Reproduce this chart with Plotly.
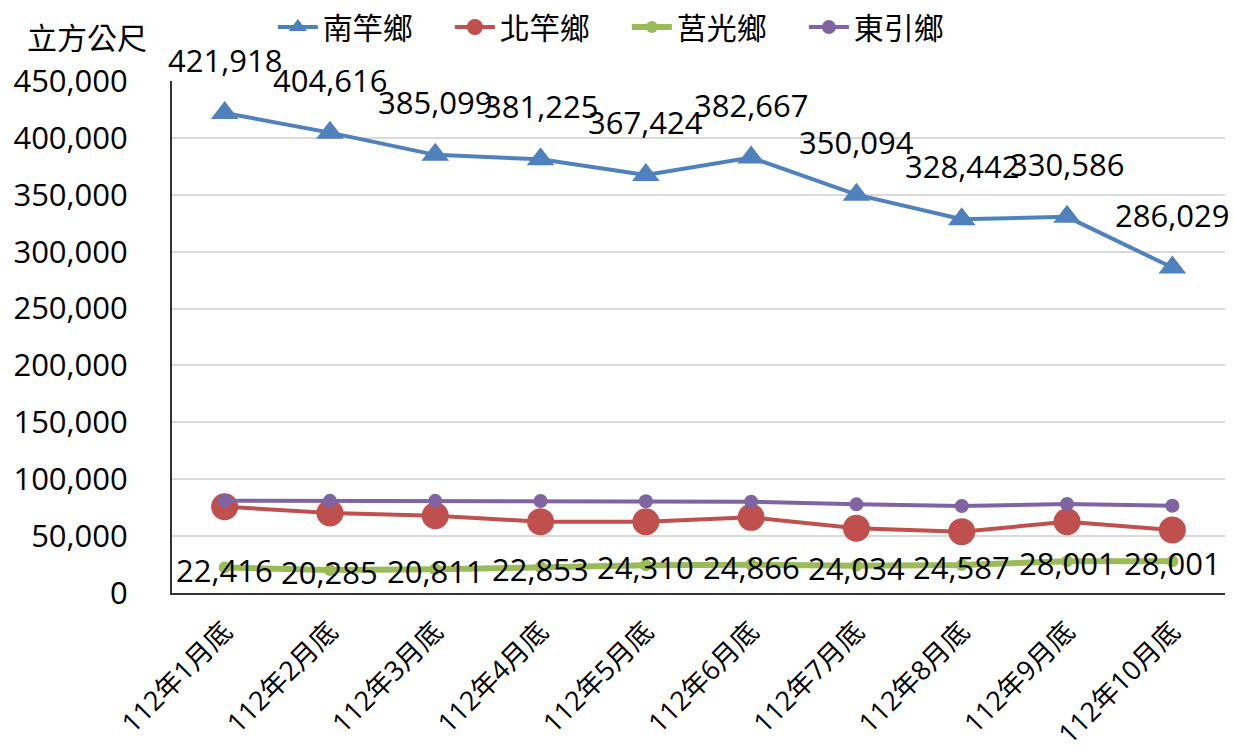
import plotly.graph_objects as go

months = ["112年1月底", "112年2月底", "112年3月底", "112年4月底", "112年5月底",
          "112年6月底", "112年7月底", "112年8月底", "112年9月底", "112年10月底"]

nangan = [421918, 404616, 385099, 381225, 367424, 382667, 350094, 328442, 330586, 286029]
beigan = [75800, 70300, 67900, 62700, 62600, 66500, 56900, 53900, 62600, 55400]
juguang = [22416, 20285, 20811, 22853, 24310, 24866, 24034, 24587, 28001, 28001]
dongyin = [81100, 81000, 81000, 80900, 80700, 80300, 77900, 76500, 78200, 76700]

FONT = "Open Sans, Noto Sans CJK TC, sans-serif"
LABEL_SIZE = 31

fig = go.Figure()
fig.add_trace(go.Scatter(
    x=months, y=nangan, name="南竿鄉", mode="lines+markers",
    line=dict(color="#4F81BD", width=4),
    marker=dict(symbol="triangle-up", size=24, color="#4F81BD"),
    cliponaxis=False))
fig.add_trace(go.Scatter(
    x=months, y=beigan, name="北竿鄉", mode="lines+markers",
    line=dict(color="#C0504D", width=4),
    marker=dict(symbol="circle", size=27, color="#C0504D"),
    cliponaxis=False))
fig.add_trace(go.Scatter(
    x=months, y=juguang, name="莒光鄉", mode="lines+markers",
    line=dict(color="#9BBB59", width=6),
    marker=dict(symbol="circle", size=12, color="#9BBB59"),
    cliponaxis=False))
fig.add_trace(go.Scatter(
    x=months, y=dongyin, name="東引鄉", mode="lines+markers",
    line=dict(color="#8064A2", width=4),
    marker=dict(symbol="circle", size=14, color="#8064A2"),
    cliponaxis=False))

# value labels: above the 南竿鄉 points, centred on the 莒光鄉 points
for m, v in zip(months, nangan):
    fig.add_annotation(x=m, y=v, text=f"{v:,}", showarrow=False, yshift=53,
                       font=dict(family=FONT, size=LABEL_SIZE, color="#000000"))
for m, v in zip(months, juguang):
    fig.add_annotation(x=m, y=v, text=f"{v:,}", showarrow=False, yshift=-2,
                       font=dict(family=FONT, size=LABEL_SIZE, color="#000000"))

fig.add_annotation(xref="paper", yref="paper", x=-0.14, y=1.085, xanchor="left",
                   yanchor="middle", text="立方公尺", showarrow=False,
                   font=dict(family=FONT, size=30, color="#000000"))

fig.update_layout(
    width=1234, height=753,
    margin=dict(l=172, r=9, t=81, b=160, autoexpand=False),
    paper_bgcolor="white", plot_bgcolor="white",
    font=dict(family=FONT, color="#000000"),
    showlegend=True,
    legend=dict(orientation="h", x=0.508, xanchor="center", xref="container",
                y=1 - 27 / 753, yanchor="middle", yref="container",
                font=dict(family=FONT, size=30), itemwidth=40, entrywidth=122,
                bgcolor="rgba(0,0,0,0)"),
    xaxis=dict(type="category", tickangle=-45, tickfont=dict(size=27),
               showline=True, linecolor="#333333", linewidth=2,
               showgrid=False, ticks="", range=[-0.5, 9.5],
               ticklabelstandoff=10, automargin=False),
    yaxis=dict(range=[0, 450000], dtick=50000, tickformat=",d",
               tickfont=dict(size=31), showgrid=True, gridcolor="#D9D9D9",
               gridwidth=1.5, showline=True, linecolor="#333333", linewidth=2,
               ticks="", zeroline=False, ticklabelstandoff=36, automargin=False),
)

fig.write_html("out.html")
